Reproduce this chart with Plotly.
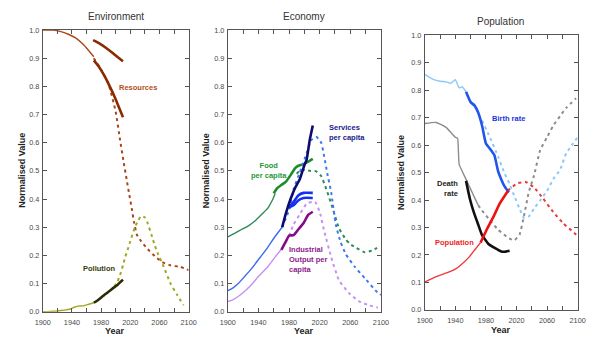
import plotly.graph_objects as go

W, H = 609, 346

# ---------------- Environment ----------------
RES_MODEL_YR = [1900, 1915, 1925, 1935, 1945, 1955, 1962, 1970]
RES_MODEL = [1.0, 1.0, 0.994, 0.985, 0.972, 0.95, 0.93, 0.905]
RES_PROJ_YR = [1970, 1980, 1990, 2000, 2006, 2011, 2015, 2018, 2022, 2025, 2029, 2035, 2044, 2055, 2064, 2075, 2089, 2100]
RES_PROJ = [0.9, 0.86, 0.81, 0.71, 0.61, 0.53, 0.47, 0.425, 0.367, 0.32, 0.274, 0.25, 0.222, 0.194, 0.176, 0.165, 0.159, 0.148]
RES_OBS_A_YR = [1969, 1978, 1986, 1995, 2003, 2010]
RES_OBS_A = [0.964, 0.952, 0.938, 0.92, 0.903, 0.889]
RES_OBS_B_YR = [1970, 1977, 1984, 1990, 1997, 2003, 2010]
RES_OBS_B = [0.892, 0.87, 0.84, 0.81, 0.772, 0.735, 0.69]

POL_MODEL_YR = [1900, 1910, 1920, 1930, 1937, 1943, 1948, 1955, 1962, 1970]
POL_MODEL = [0.0, 0.001, 0.003, 0.006, 0.009, 0.016, 0.02, 0.021, 0.026, 0.032]
POL_OBS_YR = [1970, 1976, 1982, 1988, 1995, 2003, 2010]
POL_OBS = [0.032, 0.042, 0.055, 0.067, 0.081, 0.097, 0.114]
POL_PROJ_YR = [1998, 2002, 2006, 2010, 2013, 2017, 2020, 2026, 2031, 2035, 2040, 2043, 2049, 2053, 2058, 2066, 2075, 2084, 2093]
POL_PROJ = [0.09, 0.105, 0.13, 0.165, 0.194, 0.225, 0.25, 0.298, 0.325, 0.34, 0.335, 0.32, 0.274, 0.24, 0.205, 0.159, 0.101, 0.061, 0.023]

# ---------------- Economy ----------------
FOOD_MODEL_YR = [1900, 1910, 1918, 1927, 1935, 1944, 1952, 1958, 1962]
FOOD_MODEL = [0.266, 0.28, 0.292, 0.305, 0.321, 0.345, 0.367, 0.395, 0.42]
FOOD_OBS_YR = [1960, 1964, 1970, 1976, 1982, 1988, 1993, 1999, 2005, 2011]
FOOD_OBS = [0.42, 0.437, 0.45, 0.462, 0.485, 0.51, 0.519, 0.524, 0.533, 0.543]
FOOD_PROJ_YR = [1990, 1995, 2002, 2008, 2015, 2022, 2026, 2030, 2037, 2045, 2054, 2060, 2067, 2079, 2088, 2098]
FOOD_PROJ = [0.49, 0.503, 0.503, 0.5, 0.499, 0.482, 0.455, 0.425, 0.367, 0.298, 0.257, 0.24, 0.228, 0.211, 0.217, 0.231]

SVC_MODEL_YR = [1900, 1907, 1914, 1922, 1931, 1940, 1952, 1962, 1971]
SVC_MODEL = [0.075, 0.085, 0.101, 0.125, 0.153, 0.185, 0.228, 0.268, 0.30]
SVC_OBS_YR = [1971, 1976, 1982, 1988, 1994, 2000, 2003, 2007, 2011]
SVC_OBS = [0.30, 0.35, 0.40, 0.44, 0.47, 0.52, 0.54, 0.609, 0.661]
SVC_ALT_A_YR = [1980, 1986, 1992, 1999, 2011]
SVC_ALT_A = [0.37, 0.39, 0.413, 0.422, 0.422]
SVC_ALT_B_YR = [1980, 1986, 1992, 1999, 2011]
SVC_ALT_B = [0.37, 0.378, 0.395, 0.404, 0.404]
SVC_PROJ_YR = [1971, 1980, 1986, 1994, 2003, 2009, 2016, 2022, 2026, 2030, 2035, 2041, 2047, 2054, 2066, 2079, 2096, 2100]
SVC_PROJ = [0.30, 0.36, 0.436, 0.494, 0.563, 0.609, 0.62, 0.60, 0.55, 0.49, 0.425, 0.31, 0.25, 0.205, 0.159, 0.119, 0.067, 0.06]

IND_MODEL_YR = [1900, 1907, 1914, 1922, 1931, 1940, 1952, 1962, 1970]
IND_MODEL = [0.036, 0.043, 0.055, 0.073, 0.096, 0.125, 0.159, 0.195, 0.222]
IND_OBS_YR = [1970, 1975, 1980, 1986, 1992, 1999, 2005, 2011]
IND_OBS = [0.22, 0.245, 0.27, 0.272, 0.292, 0.315, 0.344, 0.355]
IND_PROJ_YR = [1980, 1986, 1995, 2003, 2010, 2014, 2020, 2026, 2035, 2045, 2058, 2071, 2084, 2096]
IND_PROJ = [0.27, 0.31, 0.35, 0.384, 0.39, 0.39, 0.355, 0.286, 0.194, 0.113, 0.067, 0.038, 0.023, 0.015]

# ---------------- Population ----------------
BIRTH_MODEL_YR = [1900, 1911, 1920, 1928, 1934, 1940, 1945, 1949, 1954]
BIRTH_MODEL = [0.858, 0.84, 0.833, 0.831, 0.825, 0.839, 0.809, 0.813, 0.795]
BIRTH_OBS_YR = [1954, 1960, 1965, 1970, 1975, 1980, 1985, 1991, 1996, 2000, 2004, 2010]
BIRTH_OBS = [0.795, 0.757, 0.745, 0.718, 0.671, 0.606, 0.588, 0.564, 0.505, 0.476, 0.452, 0.428]
BIRTH_PROJ_YR = [1975, 1985, 1996, 2004, 2011, 2017, 2024, 2030, 2036, 2043, 2051, 2060, 2068, 2077, 2085, 2094, 2100]
BIRTH_PROJ = [0.69, 0.63, 0.558, 0.5, 0.458, 0.416, 0.369, 0.334, 0.34, 0.369, 0.399, 0.434, 0.476, 0.51, 0.57, 0.606, 0.629]

DEATH_MODEL_YR = [1900, 1915, 1928, 1934, 1940, 1943, 1944, 1945, 1949, 1955, 1960, 1965, 1970]
DEATH_MODEL = [0.679, 0.683, 0.665, 0.647, 0.629, 0.625, 0.58, 0.53, 0.505, 0.47, 0.44, 0.41, 0.381]
DEATH_OBS_YR = [1954, 1959, 1964, 1970, 1975, 1983, 1992, 2000, 2006, 2011]
DEATH_OBS = [0.47, 0.405, 0.357, 0.31, 0.272, 0.241, 0.225, 0.213, 0.212, 0.215]
DEATH_PROJ_YR = [1970, 1973, 1983, 1996, 2009, 2017, 2024, 2030, 2036, 2043, 2051, 2060, 2068, 2077, 2085, 2098]
DEATH_PROJ = [0.381, 0.369, 0.334, 0.292, 0.263, 0.253, 0.274, 0.345, 0.428, 0.49, 0.582, 0.629, 0.671, 0.706, 0.736, 0.771]

POP_MODEL_YR = [1900, 1915, 1932, 1941, 1949, 1958, 1966, 1973]
POP_MODEL = [0.101, 0.121, 0.138, 0.15, 0.168, 0.192, 0.221, 0.245]
POP_OBS_YR = [1973, 1981, 1990, 1998, 2009]
POP_OBS = [0.245, 0.292, 0.34, 0.387, 0.434]
POP_PROJ_YR = [2009, 2011, 2021, 2032, 2043, 2055, 2068, 2081, 2098, 2100]
POP_PROJ = [0.434, 0.44, 0.461, 0.466, 0.446, 0.405, 0.357, 0.316, 0.274, 0.27]

# ---------------- Axis ticks / labels ----------------
X_TICKS = [1900, 1920, 1940, 1960, 1980, 2000, 2020, 2040, 2060, 2080, 2100]
X_TICK_TEXT = ["1900", "", "1940", "", "1980", "", "2020", "", "2060", "", "2100"]
Y_TICKS = [0.0, 0.1, 0.2, 0.3, 0.4, 0.5, 0.6, 0.7, 0.8, 0.9, 1.0]
Y_TICK_TEXT = ["0.0", "0.1", "0.2", "0.3", "0.4", "0.5", "0.6", "0.7", "0.8", "0.9", "1.0"]
PANEL_TITLES = ["Environment", "Economy", "Population"]

FONT = "Liberation Sans, Arial, sans-serif"
DOT = "3px,3.5px"

fig = go.Figure()


def add(xs, ys, color, width, dash="solid", panel=1):
    fig.add_trace(go.Scatter(
        x=xs, y=ys, mode="lines",
        line=dict(color=color, width=width, dash=dash, shape="spline", smoothing=0.4),
        xaxis="x" if panel == 1 else f"x{panel}",
        yaxis="y" if panel == 1 else f"y{panel}",
        showlegend=False, hoverinfo="skip",
    ))


# Environment: resources and pollution
add(RES_MODEL_YR, RES_MODEL, "#A8461A", 1.4, panel=1)
add(RES_PROJ_YR, RES_PROJ, "#A8461A", 2, DOT, panel=1)
add(RES_OBS_A_YR, RES_OBS_A, "#8B2A00", 2.6, panel=1)
add(RES_OBS_B_YR, RES_OBS_B, "#8B2A00", 2.6, panel=1)
add(POL_MODEL_YR, POL_MODEL, "#A2A81E", 1.4, panel=1)
add(POL_PROJ_YR, POL_PROJ, "#A2A81E", 2, DOT, panel=1)
add(POL_OBS_YR, POL_OBS, "#2A2A06", 2.6, panel=1)

# Economy: food, services, industrial output
add(FOOD_MODEL_YR, FOOD_MODEL, "#2E8B57", 1.4, panel=2)
add(FOOD_PROJ_YR, FOOD_PROJ, "#2E8B57", 2, DOT, panel=2)
add(FOOD_OBS_YR, FOOD_OBS, "#1E8C28", 2.6, panel=2)
add(SVC_MODEL_YR, SVC_MODEL, "#3A6BF0", 1.4, panel=2)
add(SVC_PROJ_YR, SVC_PROJ, "#3A78F5", 2, DOT, panel=2)
add(IND_MODEL_YR, IND_MODEL, "#C690F0", 1.4, panel=2)
add(IND_PROJ_YR, IND_PROJ, "#C690F0", 2, DOT, panel=2)
add(SVC_ALT_A_YR, SVC_ALT_A, "#1530F5", 2.6, panel=2)
add(SVC_ALT_B_YR, SVC_ALT_B, "#1530F5", 2.6, panel=2)
add(IND_OBS_YR, IND_OBS, "#860A86", 2.6, panel=2)
add(SVC_OBS_YR, SVC_OBS, "#0C0C6E", 2.6, panel=2)

# Population: birth rate, death rate, population
add(BIRTH_MODEL_YR, BIRTH_MODEL, "#8CC8F8", 1.4, panel=3)
add(BIRTH_PROJ_YR, BIRTH_PROJ, "#8CC8F8", 2, DOT, panel=3)
add(DEATH_MODEL_YR, DEATH_MODEL, "#8C8C8C", 1.4, panel=3)
add(DEATH_PROJ_YR, DEATH_PROJ, "#8C8C8C", 2, DOT, panel=3)
add(POP_MODEL_YR, POP_MODEL, "#F03A3A", 1.4, panel=3)
add(POP_PROJ_YR, POP_PROJ, "#E83A3A", 2, DOT, panel=3)
add(BIRTH_OBS_YR, BIRTH_OBS, "#2255EE", 2.6, panel=3)
add(DEATH_OBS_YR, DEATH_OBS, "#111111", 2.6, panel=3)
add(POP_OBS_YR, POP_OBS, "#EE1111", 2.6, panel=3)


def px(x):
    return x / W


def py(y):
    return 1 - y / H


# plot-area pixel boxes (left, right, top, bottom)
boxes = [(35.7, 185.5, 26.7, 316), (225.7, 383, 26.7, 316), (428, 585, 32.3, 314)]

axis_common = dict(
    showline=True, linecolor="#555555", linewidth=1, mirror="ticks",
    ticks="inside", ticklen=4, tickwidth=1, tickcolor="#555555",
    showgrid=False, zeroline=False,
    tickfont=dict(family=FONT, size=7.3, color="#4a4a4a"),
)

layout = dict(
    width=W, height=H, margin=dict(l=0, r=0, t=0, b=0),
    paper_bgcolor="white", plot_bgcolor="white",
    font=dict(family=FONT),
)
for i, (l, r, t, b) in enumerate(boxes, start=1):
    sx = "" if i == 1 else str(i)
    layout[f"xaxis{sx}"] = dict(
        axis_common, domain=[px(l), px(r)], range=[1900, 2100],
        tickvals=X_TICKS, ticktext=X_TICK_TEXT, ticklabelstandoff=3,
        anchor=f"y{sx}",
    )
    layout[f"yaxis{sx}"] = dict(
        axis_common, domain=[py(b), py(t)], range=[0, 1.0],
        tickvals=Y_TICKS, ticktext=Y_TICK_TEXT, ticklabelstandoff=1,
        anchor=f"x{sx}",
    )
fig.update_layout(**layout)

ann = []


def text(x, y, s, size, color, bold=False, align="center", xanchor="center", angle=0):
    ann.append(dict(
        x=px(x), y=py(y), xref="paper", yref="paper", showarrow=False,
        text=f"<b>{s}</b>" if bold else s, textangle=angle,
        font=dict(family=FONT, size=size, color=color),
        align=align, xanchor=xanchor, yanchor="middle",
    ))


# panel titles
text(111, 13, PANEL_TITLES[0], 10, "#333333")
text(304, 13, PANEL_TITLES[1], 10, "#333333")
text(506, 18, PANEL_TITLES[2], 10, "#333333")

# axis titles
for xc, yc in [(13.5, 171), (203, 171), (403, 173)]:
    text(xc, yc, "Normalised Value", 9, "#222222", bold=True, angle=-90)
for xc, yc in [(110, 335.5), (304, 335.5), (506, 335)]:
    text(xc, yc, "Year", 9, "#222222", bold=True)

# series labels
text(134, 86, "Resources", 7.5, "#B0501A", bold=True)
text(93, 272, "Pollution", 7.5, "#3A3A08", bold=True)
text(328, 131.5, "Services<br>per capita", 7.5, "#1A1A8C", bold=True, align="left", xanchor="left")
text(268, 171, "Food<br>per capita", 7.5, "#229A33", bold=True)
text(287, 262.5, "Industrial<br>Output per<br>capita", 7.5, "#8B1A8B", bold=True, align="left", xanchor="left")
text(495, 118, "Birth rate", 7.5, "#2233DD", bold=True, align="left", xanchor="left")
text(464, 189, "Death<br>rate", 7.5, "#222222", bold=True, align="right", xanchor="right")
text(459, 245, "Population", 7.5, "#EE2222", bold=True)

fig.update_layout(annotations=ann)

fig.write_html("out.html")
